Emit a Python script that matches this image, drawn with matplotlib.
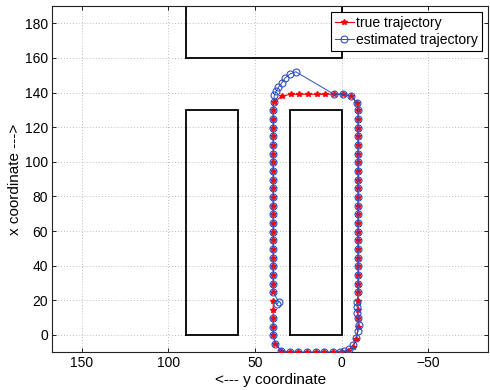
import matplotlib
matplotlib.use("Agg")
import matplotlib.pyplot as plt

plt.rcParams['font.family'] = ['Liberation Sans', 'DejaVu Sans']

# Obstacles (horizontal = y coordinate, vertical = x coordinate)
rect_left = [90, 60]      # h range
rect_left_v = [0, 130]
rect_right = [30, 0]
rect_right_v = [0, 130]
rect_top = [90, 0]
rect_top_v = [160, 190]

true_h = [39.5, 39.5, 39.5, 39.5, 39.5,
          38.3, 35.0, 30.0, 25.0, 20.0, 15.0, 10.0, 5.0, 0.5, -3.5, -6.5, -8.5,
          -9.5, -9.5, -9.5, -9.5, -9.5, -9.5, -9.5, -9.5, -9.5, -9.5, -9.5, -9.5, -9.5,
          -9.5, -9.5, -9.5, -9.5, -9.5, -9.5, -9.5, -9.5, -9.5, -9.5, -9.5, -9.5, -9.5,
          -9.0, -5.4, -0.6, 4.4, 9.4, 14.4, 19.4, 24.4, 29.4, 34.2, 39.0,
          39.5, 39.5, 39.5, 39.5, 39.5, 39.5, 39.5, 39.5, 39.5, 39.5, 39.5,
          39.5, 39.5, 39.5, 39.5, 39.5, 39.5, 39.5, 39.5, 39.5, 39.5, 39.5]
true_v = [19.7, 14.7, 9.7, 4.7, -0.3,
          -5.0, -9.0, -10.0, -10.0, -10.0, -10.0, -10.0, -10.0, -10.0, -9.3, -6.8, -2.5,
          4.7, 9.7, 14.7, 19.7, 24.7, 29.7, 34.7, 39.7, 44.7, 49.7, 54.7, 59.7, 64.7,
          69.7, 74.7, 79.7, 84.7, 89.7, 94.7, 99.7, 104.7, 109.7, 114.7, 119.7, 124.7, 129.7,
          134.0, 138.0, 139.0, 139.0, 139.0, 139.0, 139.0, 139.0, 139.0, 138.0, 134.7,
          129.7, 124.7, 119.7, 114.7, 109.7, 104.7, 99.7, 94.7, 89.7, 84.7, 79.7,
          74.7, 69.7, 64.7, 59.7, 54.7, 49.7, 44.7, 39.7, 34.7, 29.7, 24.7]

est_h = [39.5, 39.5, 39.5,
         38.3, 35.0, 30.0, 25.0, 20.0, 15.0, 10.0, 5.0, 1.0, -1.5, -4.2, -6.7, -8.3,
         -9.6, -10.2, -9.6, -9.0, -9.0, -9.0,
         -9.5, -9.5, -9.5, -9.5, -9.5, -9.5, -9.5, -9.5, -9.5, -9.5, -9.5,
         -9.5, -9.5, -9.5, -9.5, -9.5, -9.5, -9.5, -9.5, -9.5, -9.5, -9.5,
         -9.0, -5.4, -0.6, 4.4,
         26.5, 29.8, 32.7, 34.6, 36.5, 37.8, 38.8, 39.3,
         39.5, 39.5, 39.5, 39.5, 39.5, 39.5, 39.5, 39.5, 39.5, 39.5, 39.5,
         39.5, 39.5, 39.5, 39.5, 39.5, 39.5, 39.5, 39.5, 39.5, 39.5, 39.5,
         36.4, 37.3]
est_v = [9.7, 4.7, -0.3,
         -5.0, -9.0, -10.0, -10.0, -10.0, -10.0, -10.0, -10.0, -9.6, -9.2, -8.3, -5.8, -1.6,
         2.5, 5.8, 9.6, 12.9, 16.0, 19.3,
         24.7, 29.7, 34.7, 39.7, 44.7, 49.7, 54.7, 59.7, 64.7, 69.7, 74.7,
         79.7, 84.7, 89.7, 94.7, 99.7, 104.7, 109.7, 114.7, 119.7, 124.7, 129.7,
         134.0, 138.0, 139.0, 139.0,
         152.0, 150.7, 148.4, 145.5, 143.0, 140.8, 138.5, 134.7,
         129.7, 124.7, 119.7, 114.7, 109.7, 104.7, 99.7, 94.7, 89.7, 84.7, 79.7,
         74.7, 69.7, 64.7, 59.7, 54.7, 49.7, 44.7, 39.7, 34.7, 29.7, 24.7,
         19.2, 17.8]

xticks = [150, 100, 50, 0, -50]
yticks = [0, 20, 40, 60, 80, 100, 120, 140, 160, 180]

fig = plt.figure(figsize=(4.9, 3.9), dpi=100)
ax = fig.add_axes([0.1067, 0.0967, 0.889, 0.888])

def draw_rect(hr, vr):
    ax.plot([hr[0], hr[1], hr[1], hr[0], hr[0]],
            [vr[0], vr[0], vr[1], vr[1], vr[0]], color='black', lw=1.3,
            solid_joinstyle='miter', zorder=2)

draw_rect(rect_left, rect_left_v)
draw_rect(rect_right, rect_right_v)
draw_rect(rect_top, rect_top_v)

ax.plot(true_h, true_v, color='#ff0000', marker='*', markersize=4, lw=0.8,
        label='true trajectory', zorder=3)
ax.plot(est_h, est_v, color='#2f50c4', marker='o', markersize=5, lw=0.7,
        markerfacecolor='none', markeredgewidth=0.8,
        label='estimated trajectory', zorder=4)

ax.set_xlim(167, -84.4)
ax.set_ylim(-10, 190)
ax.set_xticks(xticks)
ax.set_xticklabels(['150', '100', '50', '0', '\u221250'])
ax.set_yticks(yticks)
ax.tick_params(direction='in', top=True, right=True, length=3, labelsize=10,
               width=0.6, pad=3)
ax.grid(True, color='#a8a8a8', linestyle=(0, (1, 2.5)), linewidth=0.6)
for s in ax.spines.values():
    s.set_linewidth(0.8)
    s.set_color('#222222')

ax.set_xlabel('<--- y coordinate', fontsize=11, labelpad=2)
ax.set_ylabel('x coordinate --->', fontsize=11, labelpad=2)

leg = ax.legend(loc='upper right', fontsize=10, fancybox=False, framealpha=1,
                edgecolor='black', borderaxespad=0.4, handlelength=1.3,
                handletextpad=0.2, borderpad=0.3, labelspacing=0.25)
leg.get_frame().set_linewidth(0.8)

fig.savefig('out.png', dpi=100)
